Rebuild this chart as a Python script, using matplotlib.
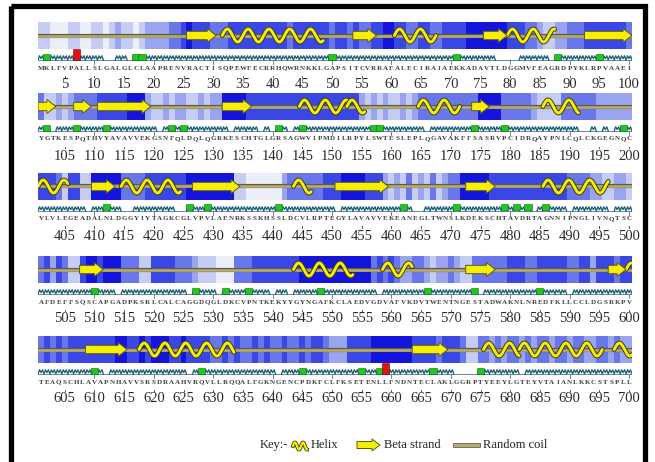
import matplotlib
matplotlib.use("Agg")
import matplotlib.pyplot as plt
import matplotlib.patheffects as pe
import numpy as np
from matplotlib.colors import ListedColormap
from matplotlib.patches import Rectangle, Polygon

# --- data ---
row_starts = [1, 101, 401, 501, 601]
row_tops = [22, 93, 173, 256, 336]   # pixel y of each band

sequences = [
    "MKLFVPALLSLGALGLCLAAPRENVRACTISQPEWFECRRHQWRNKKLGAPSITCVRRAFALECIRAIAEKKADAVTLDGGMVFEAGRDPYKLRPVAAEI",
    "YGTKESPQTHVYAVAVVEKGSNFQLDQLQGRKESCHTGLGRSAGWVIPMDILRPYLSWTESLEPLQGAVAKFFSASRVPCIDRQAYPNLCQLCKGEGNQC",
    "VLVLEGEADALNLDGGYIYTAGKCGLVPVLAENRKSSKHSSLDCVLRPTEGYLAVAVVEKEANEGLTWNSLKDEKSCHTAVDRTAGNNIPNGLIVNQTSC",
    "AFDEFFSQSCAPGADPKSRLCALCAGGDQGLDKCVPNTKEKYYGYNGAFKCLAEDVGDVAFVKDVTWENTNGESTADWAKNLNREDFKLLCCLDGSRKPV",
    "TEAQSCHLAVAPNHAVVSRSDRAAHVRQVLLRQQALFGKNGENCPDKFCLFKSETENLLFNDNTECLAKLGGRPTYEEYLGTEYVTAIANLKKCSTSPLL",
]

# shade level (0 pale .. 5 dark blue) per residue
shades = [
    "1100011001101211012222334544433344444444443444444344343344554433443344445555555444332112233344444443",
    "3112123333444445552112122112122555544444444444444444442121211212333333333355553333321111333333222222221",
    "4443144115555533334444444555555551100000023333334445555444212131213123355555444444444444433332211221",
    "3424311455455533311444433321110003334444444455555555555534343223321223211333333444334444433442444344",
    "3434344444444554454555445444433434334343343343443222444455555554444344431133232332323323323322332322",
]

helices = [
    [(32, 48), (61, 67), (80, 87)],
    [(145, 152), (153, 155), (165, 171), (186, 191)],
    [(401, 405), (415, 424), (444, 446), (486, 496)],
    [(544, 553), (559, 563), (600, 600)],
    [(618, 633), (676, 681), (682, 695), (698, 700)],
]
strands = [
    [(26, 30), (54, 57), (76, 79), (93, 100)],
    [(101, 103), (107, 109), (111, 119), (132, 136), (174, 176)],
    [(410, 413), (427, 434), (451, 459), (473, 477)],
    [(508, 511), (573, 577), (597, 599)],
    [(609, 615), (664, 669)],
]
green_marks = [
    [2, 17, 18, 50, 71, 88, 95],
    [102, 107, 112, 123, 125, 141, 145, 157, 158, 174, 179, 199],
    [412, 426, 429, 441, 462, 471, 479, 481, 483, 486],
    [510, 527, 532, 536, 548, 566, 574, 585],
    [610, 628, 645, 655, 658, 667, 675],
]
red_marks = [[7], [], [], [], [659]]
glyph_gaps = [
    [12, 13, 16, 78, 79, 80, 81, 87],
    [103, 121, 133, 138, 140, 143, 166, 192, 193, 195, 197],
    [409, 415, 416, 424, 425, 451, 464, 465, 484, 490, 497],
    [514, 526, 531, 540, 543, 558, 575, 590],
    [612, 626, 641, 671, 672, 673, 674, 682],
]

shade_colors = ["#eceef9", "#c6ccf3", "#9aa4ef", "#6a77ea", "#3a47e4", "#1414dc"]
serif = "Liberation Serif"
yellow = "#f6f000"

W, H = 655, 462
fig = plt.figure(figsize=(W / 100, H / 100), dpi=100)

# background axes in pixel units: frame + key
bg = fig.add_axes([0, 0, 1, 1])
bg.set_xlim(0, W)
bg.set_ylim(H, 0)
bg.axis("off")
bg.add_patch(Rectangle((10.5, 6), 634, 470, fill=False, ec="black", lw=3.8))

BAND_H = 27
MID = BAND_H / 2
ROW_H = 72
X0, X1 = 38, 632


def draw_helix(ax, s, e, amp=6.5, period=3.5, lw=2.1):
    x = np.linspace(s - 0.5, e + 0.5, 300)
    y = MID - amp * np.sin(2 * np.pi * (x - s + 0.5) / period)
    ax.plot(x, y, color=yellow, lw=lw, solid_capstyle="round", zorder=4,
            path_effects=[pe.Stroke(linewidth=lw + 1.4, foreground="#3a3a20"), pe.Normal()])


def draw_strand(ax, s, e):
    head = min(1.5, (e - s + 1) * 0.6)
    x0, x2 = s - 0.5, e + 0.5
    x1 = x2 - head
    pts = [(x0, MID - 4.2), (x1, MID - 4.2), (x1, MID - 7), (x2, MID),
           (x1, MID + 7), (x1, MID + 4.2), (x0, MID + 4.2)]
    ax.add_patch(Polygon(pts, closed=True, fc=yellow, ec="#5a5a20", lw=0.7, zorder=4))


for r in range(5):
    top = row_tops[r]
    ax = fig.add_axes([X0 / W, 1 - (top + ROW_H) / H, (X1 - X0) / W, ROW_H / H])
    ax.set_xlim(0.5, 100.5)
    ax.set_ylim(ROW_H, 0)
    ax.axis("off")
    start = row_starts[r]

    lev = np.array([int(c) for c in shades[r][:100]])
    ax.imshow(lev[np.newaxis, :], cmap=ListedColormap(shade_colors), vmin=-0.5, vmax=5.5,
              extent=(0.5, 100.5, BAND_H, 0), aspect="auto", interpolation="nearest", zorder=1)

    # random coil through the whole row
    ax.plot([0.5, 100.5], [MID, MID], color="#b4ac6c", lw=1.9, zorder=3,
            path_effects=[pe.Stroke(linewidth=3.0, foreground="#5e5c48"), pe.Normal()])
    for s, e in helices[r]:
        draw_helix(ax, s - start + 1, e - start + 1)
    for s, e in strands[r]:
        draw_strand(ax, s - start + 1, e - start + 1)

    # glyph track
    base = 38
    ax.plot([0.5, 100.5], [base, base], color="#4d7686", lw=0.6, zorder=2)
    gx, gy = [], []
    gaps = set(g - start + 1 for g in glyph_gaps[r])
    for k in range(1, 101):
        if k in gaps:
            gx.append(np.nan); gy.append(np.nan)
            continue
        gx += [k - 0.5, k - 0.25, k, k + 0.25, k + 0.5]
        gy += [base, base - 4.2, base - 1.4, base - 4.2, base]
    ax.plot(gx, gy, color="#1f6179", lw=0.95, zorder=3)
    for k in range(10, 101, 10):
        ax.plot([k, k], [base, base + 4], color="#4d7686", lw=0.6, zorder=3)
    for g in green_marks[r]:
        k = g - start + 1
        ax.add_patch(Rectangle((k - 0.6, base - 6.5), 1.2, 6, fc="#1fc81f", ec="#0b6b0b", lw=0.4, zorder=5))
    for g in red_marks[r]:
        k = g - start + 1
        ax.add_patch(Rectangle((k - 0.6, base - 11.5), 1.2, 11.5, fc="#e01212", ec="#700000", lw=0.4, zorder=5))

    # sequence letters
    for k, ch in enumerate(sequences[r][:100], start=1):
        ax.text(k, 46, ch, ha="center", va="center", fontsize=5.0, family=serif,
                color="#3c3c3c", fontweight="bold")
    # residue numbers
    for k in range(5, 101, 5):
        ax.plot([k, k], [53.5, 55], color="#333333", lw=0.6)
        ax.text(k, 63, str(start - 1 + k), ha="center", va="center", fontsize=10.5,
                family=serif, color="#2a2a2a")

# key
ky = 445
bg.text(260, ky, "Key:-", ha="left", va="center", fontsize=9, family=serif, color="#222222")
hx = np.linspace(293, 307, 60)
bg.plot(hx, ky + 1 - 3.5 * np.sin(2 * np.pi * (hx - 293) / 8), color=yellow, lw=1.6,
        path_effects=[pe.Stroke(linewidth=2.8, foreground="#3a3a20"), pe.Normal()])
bg.text(311, ky, "Helix", ha="left", va="center", fontsize=9, family=serif, color="#222222")
bg.add_patch(Polygon([(357, ky - 3.5), (372, ky - 3.5), (372, ky - 6), (380, ky), (372, ky + 6),
                      (372, ky + 3.5), (357, ky + 3.5)], closed=True, fc=yellow, ec="#5a5a20", lw=0.7))
bg.text(384, ky, "Beta strand", ha="left", va="center", fontsize=9, family=serif, color="#222222")
bg.plot([455, 478], [ky, ky], color="#b4ac6c", lw=2.2,
        path_effects=[pe.Stroke(linewidth=3.4, foreground="#5e5c48"), pe.Normal()])
bg.text(483, ky, "Random coil", ha="left", va="center", fontsize=9, family=serif, color="#222222")

fig.savefig("out.png", dpi=100)
